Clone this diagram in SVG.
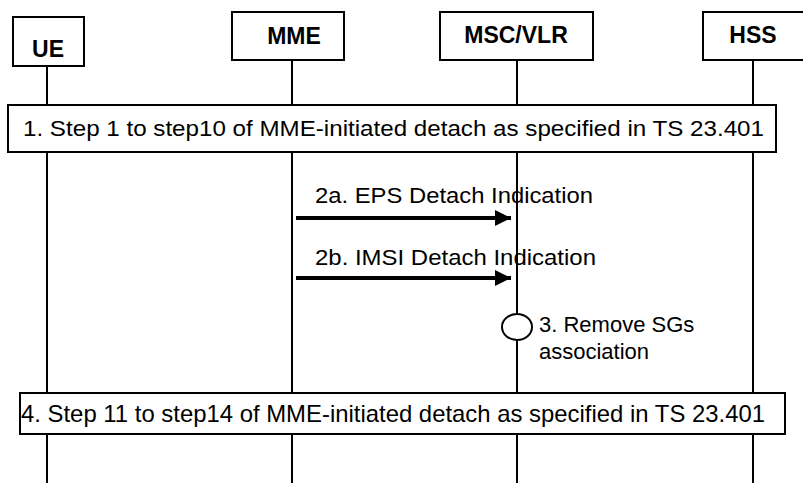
<svg xmlns="http://www.w3.org/2000/svg" width="803" height="483" viewBox="0 0 803 483">
<style>
.box{fill:#fff;stroke:#000;stroke-width:2}
.life{stroke:#000;stroke-width:2;fill:none}
.hdr{font-family:"Liberation Sans",Arial,sans-serif;font-weight:bold;font-size:23px;text-anchor:middle}
.lbl{font-family:"Liberation Sans",Arial,sans-serif;font-size:22px}
.msg{stroke:#000;stroke-width:4}
</style>
<defs>
<marker id="ah" markerUnits="userSpaceOnUse" markerWidth="18" markerHeight="16" refX="16" refY="8" orient="auto">
<path d="M0,0 L16,8 L0,16 Z" fill="#000"/>
</marker>
</defs>
<g id="lifelines">
<line class="life" x1="47" y1="66" x2="47" y2="483"/>
<line class="life" x1="292" y1="60" x2="292" y2="483"/>
<line class="life" x1="517" y1="60" x2="517" y2="483"/>
<line class="life" x1="753" y1="60" x2="753" y2="483"/>
</g>
<g id="UE"><rect class="box" x="13" y="17" width="71" height="49"/><text class="hdr" x="48" y="57">UE</text></g>
<g id="MME"><rect class="box" x="232" y="12" width="112" height="48"/><text class="hdr" x="294" y="44">MME</text></g>
<g id="MSCVLR"><rect class="box" x="440" y="12" width="153" height="48"/><text class="hdr" x="516" y="43">MSC/VLR</text></g>
<g id="HSS"><rect class="box" x="703" y="12" width="110" height="48"/><text class="hdr" x="753" y="43">HSS</text></g>
<g id="step1"><rect class="box" x="8" y="105" width="768" height="47"/><text class="lbl" x="23" y="136" textLength="741" lengthAdjust="spacingAndGlyphs">1. Step 1 to step10 of MME-initiated detach as specified in TS 23.401</text></g>
<g id="connectors">
<line class="msg" x1="296" y1="218" x2="511" y2="218" marker-end="url(#ah)"/>
<line class="msg" x1="296" y1="278" x2="511" y2="278" marker-end="url(#ah)"/>
</g>
<text class="lbl" x="315" y="203" textLength="278" lengthAdjust="spacingAndGlyphs">2a. EPS Detach Indication</text>
<text class="lbl" x="315" y="265" textLength="281" lengthAdjust="spacingAndGlyphs">2b. IMSI Detach Indication</text>
<g id="step3"><ellipse cx="517" cy="327" rx="15" ry="13" fill="#fff" stroke="#000" stroke-width="2"/>
<text class="lbl" x="539" y="332">3. Remove SGs</text><text class="lbl" x="539" y="359">association</text></g>
<g id="step4"><rect class="box" x="20" y="393" width="765" height="41"/><text class="lbl" x="21" y="422" style="font-size:24px" textLength="744" lengthAdjust="spacingAndGlyphs">4. Step 11 to step14 of MME-initiated detach as specified in TS 23.401</text></g>
</svg>
